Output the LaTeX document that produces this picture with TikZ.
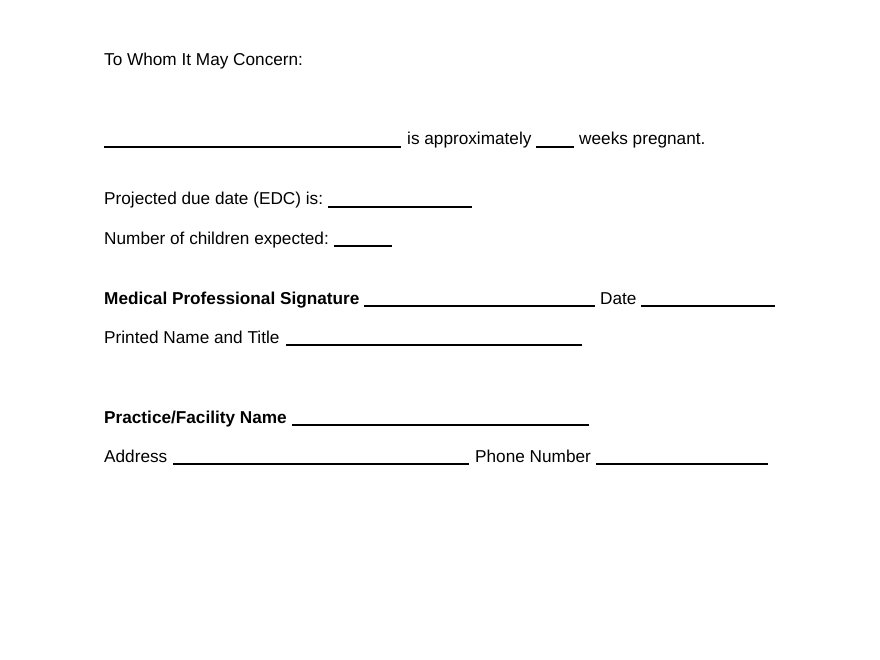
\documentclass[tikz,border=0pt]{standalone}
\usepackage{fontspec}
\setmainfont{Liberation Sans}
\begin{document}
\begin{tikzpicture}[x=1pt,y=-1pt,
  txt/.style={anchor=base west,inner sep=0pt,font=\fontsize{17.2}{19}\selectfont},
  btxt/.style={txt,font=\fontsize{17.2}{19}\selectfont\bfseries},
  uline/.style={line width=1.1pt}]
\useasboundingbox (0,0) rectangle (880,660);
\node[txt] (t1) at (104,66) {To Whom It May Concern:};
\draw[uline] (104,147) -- (401,147);
\node[txt] (t2) at (407,145) {is approximately};
\draw[uline] (536,147) -- (574,147);
\node[txt] (t3) at (579,145) {weeks pregnant.};
\node[txt] (t4) at (104,205) {Projected due date (EDC) is:};
\draw[uline] (328,207) -- (472,207);
\node[txt] (t5) at (104,244) {Number of children expected:};
\draw[uline] (334,246) -- (392,246);
\node[btxt] (t6) at (104,304) {Medical Professional Signature};
\draw[uline] (364,306) -- (595,306);
\node[txt] (t7) at (600,304) {Date};
\draw[uline] (641,306) -- (775,306);
\node[txt] (t8) at (104,343) {Printed Name and Title};
\draw[uline] (286,345) -- (582,345);
\node[btxt] (t9) at (104,423) {Practice/Facility Name};
\draw[uline] (292,425) -- (589,425);
\node[txt] (t10) at (104,462) {Address};
\draw[uline] (173,464) -- (469,464);
\node[txt] (t11) at (475,462) {Phone Number};
\draw[uline] (596,464) -- (768,464);
\end{tikzpicture}
\end{document}
